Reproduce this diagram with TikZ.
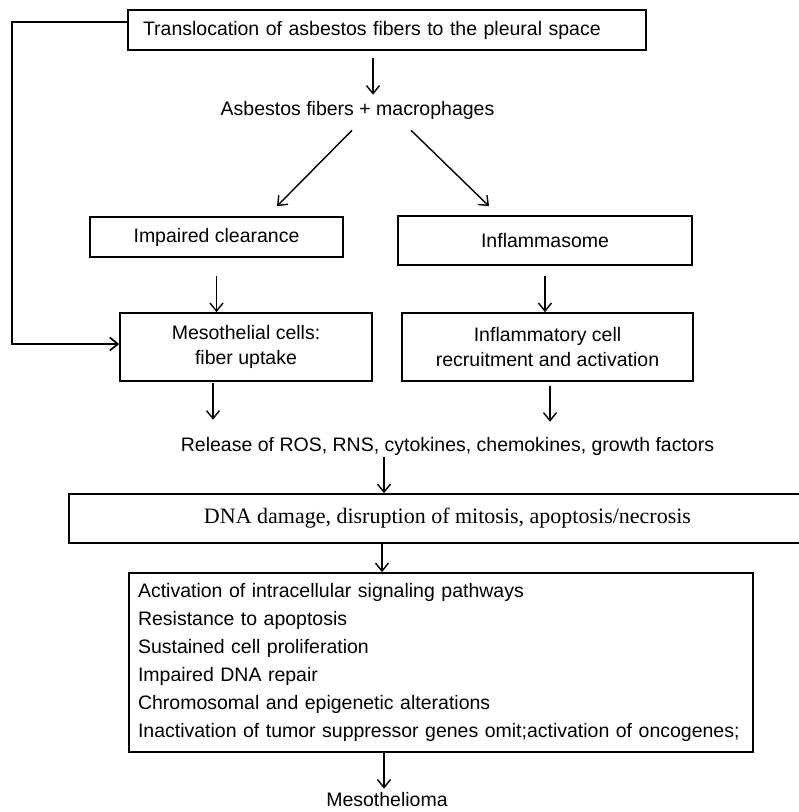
\documentclass[tikz,border=0pt]{standalone}
\usepackage{fontspec}
\setmainfont{Liberation Sans}
\newfontfamily\dnafont{Liberation Serif}
\usepackage{tikz}
\usetikzlibrary{arrows.meta,positioning,calc}
\tikzset{
    box/.style={draw, rectangle, line width=1.7pt, inner sep=0pt, align=center, font=\fontsize{19.5}{25}\selectfont},
    plain/.style={inner sep=0pt, font=\fontsize{19.5}{25}\selectfont},
    arrow/.style={-{Straight Barb[length=8pt,width=13pt]}, line width=1.4pt},
    loopline/.style={-{Straight Barb[length=8pt,width=13pt]}, line width=1.7pt}
}

\begin{document}
\begin{tikzpicture}[x=1pt, y=-1pt]
    \useasboundingbox (0,0) rectangle (799,812);

    \node[box, minimum width=518, minimum height=40, text width=488, align=left] (trans) at (387,30) {Translocation of asbestos fibers to the pleural space};
    \node[plain] (macro) at (357.5,110) {Asbestos fibers + macrophages};
    \node[box, minimum width=253, minimum height=40] (imp) at (216.5,237) {Impaired clearance};
    \node[box, minimum width=294, minimum height=49] (infl) at (545,240.5) {Inflammasome};
    \node[box, minimum width=252, minimum height=68] (meso) at (246,347) {Mesothelial cells:\\fiber uptake};
    \node[box, minimum width=291, minimum height=68] (cell) at (547.5,347) {Inflammatory cell\\recruitment and activation};
    \node[plain] (release) at (447.5,446) {Release of ROS, RNS, cytokines, chemokines, growth factors};
    \node[box, minimum width=757, minimum height=49, font=\dnafont\fontsize{22}{26}\selectfont] (dna) at (447.5,518.5) {DNA damage, disruption of mitosis, apoptosis/necrosis};
    \node[box, minimum width=624, minimum height=179, text width=606, align=left, font=\fontsize{19.5}{28}\selectfont] (hall) at (441,662.5) {Activation of intracellular signaling pathways\\
        Resistance to apoptosis\\
        Sustained cell proliferation\\
        Impaired DNA repair\\
        Chromosomal and epigenetic alterations\\
        Inactivation of tumor suppressor genes omit;activation of oncogenes;};
    \node[plain] (out) at (387,800) {Mesothelioma};

    % arrows
    \draw[arrow, shorten <=7pt, shorten >=6pt] ([xshift=-14pt]trans.south) -- ([xshift=-14pt]trans.south |- macro.north);
    \draw[arrow] ([shift={(-5.5,11)}]macro.south) -- ([shift={(60.5,-10)}]imp.north);
    \draw[arrow] ([shift={(53.5,11)}]macro.south) -- ([shift={(-56,-9)}]infl.north);
    \draw[arrow, shorten <=18pt] (imp.south) -- (imp.south |- meso.north);
    \draw[arrow, shorten <=10pt] (infl.south) -- (infl.south |- cell.north);
    \draw[arrow, shorten <=1pt, shorten >=17pt] ([xshift=-33pt]meso.south) -- ([xshift=-33pt]meso.south |- release.north);
    \draw[arrow, shorten <=4pt, shorten >=15pt] ([xshift=2.5pt]cell.south) -- ([xshift=2.5pt]cell.south |- release.north);
    \draw[arrow, shorten <=2pt] ([xshift=-63.5pt]release.south) -- ([xshift=-63.5pt]release.south |- dna.north);
    \draw[arrow] ([xshift=-59pt]hall.north |- dna.south) -- ([xshift=-59pt]hall.north);
    \draw[arrow, shorten >=4pt] ([xshift=-3pt]out.north |- hall.south) -- ([xshift=-3pt]out.north);

    % feedback to the mesothelial cells
    \draw[loopline] ([yshift=8pt]trans.west) -| ([xshift=-107pt,yshift=3pt]meso.west) -- ([yshift=3pt]meso.west);
\end{tikzpicture}
\end{document}
